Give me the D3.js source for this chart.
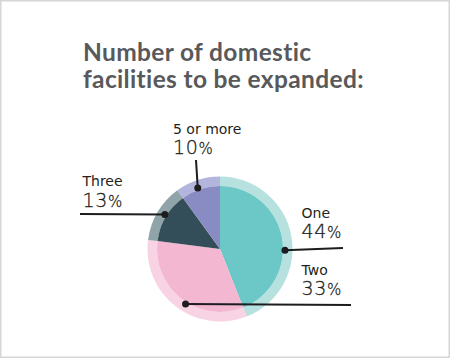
<!DOCTYPE html>
<html><head><meta charset="utf-8">
<script src="https://cdn.jsdelivr.net/npm/d3@7"></script>
<style>body{margin:0;background:#fff}svg{display:block}</style>
</head><body>
<svg id="c" width="450" height="358"></svg>
<script>
const categories = ["One", "Two", "Three", "5 or more"];
const values = [44, 33, 13, 10];
const colors = ["#6cc8c6", "#f4b7d1", "#344e59", "#888cc3"];
const ringColors = ["#b6e1df", "#f8d3e3", "#8fa3a8", "#b3b5dc"];
const titleLines = ["Number of domestic", "facilities to be expanded:"];

const svg = d3.select("#c");
svg.append("rect").attr("x", 0.75).attr("y", 0.75).attr("width", 448.5).attr("height", 356.5)
  .attr("fill", "#fff").attr("stroke", "#d6d6d6").attr("stroke-width", 1.5);

const title = svg.append("text").attr("x", 83).attr("y", 61)
  .attr("font-family", "Lato").attr("font-weight", 700).attr("font-size", 24.5)
  .attr("letter-spacing", 0.35).attr("fill", "#58595b");
titleLines.forEach((t, i) => title.append("tspan").attr("x", 83).attr("dy", i ? 26.8 : 0).text(t));

const cx = 220, cy = 249, R = 72.5, r0 = 63;
const g = svg.append("g").attr("transform", `translate(${cx},${cy})`);
const pie = d3.pie().sort(null).value(d => d)(values);
const ring = d3.arc().innerRadius(r0).outerRadius(R);
const inner = d3.arc().innerRadius(0).outerRadius(r0);
g.selectAll("path.ring").data(pie).join("path").attr("class", "ring")
  .attr("d", ring).attr("fill", (d, i) => ringColors[i]);
g.selectAll("path.inner").data(pie).join("path").attr("class", "inner")
  .attr("d", inner).attr("fill", (d, i) => colors[i]);

// annotation layout: dot angle (deg), leader end, label position
const dotAngles = [91, 212, 302, 340];
const leaderEnds = [[343, 248], [351, 305], [80, 214], [196, 160]];
const labelPos = [[301.5, 217.6, 238.4], [301.5, 274.6, 295], [82.5, 185.8, 206.6], [173, 133.6, 153.6]];
const rd = 65;

pie.forEach((d, i) => {
  const a = dotAngles[i] * Math.PI / 180;
  const x = cx + rd * Math.sin(a), y = cy - rd * Math.cos(a);
  const [ex, ey] = leaderEnds[i];
  svg.append("line").attr("x1", x).attr("y1", y).attr("x2", ex).attr("y2", ey)
    .attr("stroke", "#1d1d1f").attr("stroke-width", 2);
  svg.append("circle").attr("cx", x).attr("cy", y).attr("r", 3.5).attr("fill", "#1d1d1f");
  const [lx, ly1, ly2] = labelPos[i];
  svg.append("text").attr("x", lx).attr("y", ly1).attr("font-family", "DejaVu Sans")
    .attr("font-size", 14).attr("fill", "#231f20").text(categories[i]);
  const pt = svg.append("text").attr("x", lx).attr("y", ly2).attr("font-family", "DejaVu Sans")
    .attr("font-weight", 200).attr("fill", "#231f20")
    .attr("stroke", "#231f20").attr("stroke-width", 0.3);
  pt.append("tspan").attr("font-size", 19).attr("letter-spacing", 0.6).text(values[i]);
  pt.append("tspan").attr("font-size", 15).text("%");
});
</script>
</body></html>
